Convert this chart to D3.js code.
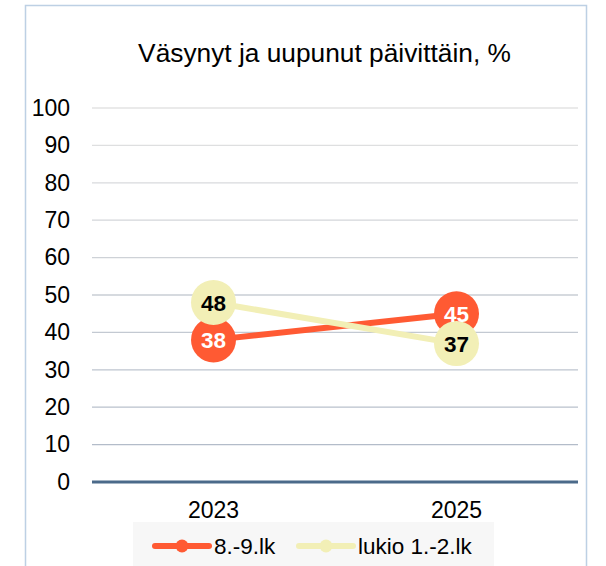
<!DOCTYPE html>
<html><head><meta charset="utf-8">
<script src="https://cdn.jsdelivr.net/npm/d3@7"></script>
<style>body{margin:0;background:#fff;}svg{display:block;font-family:"Liberation Sans",Arial,sans-serif;}</style>
</head><body><svg id="c" width="606" height="566"></svg>
<script>
const categories = ["2023", "2025"];
const seriesNames = ["8.-9.lk", "lukio 1.-2.lk"];
const series1 = [38, 45];
const series2 = [48, 37];
const yTicks = [0, 10, 20, 30, 40, 50, 60, 70, 80, 90, 100];
const title = "Väsynyt ja uupunut päivittäin, %";

const FONT = "'Liberation Sans', Arial, sans-serif";
const colors = ["#FF5A33", "#F2EFB6"];
const labelColors = ["#ffffff", "#000000"];
const svg = d3.select("#c");

// frame
svg.append("path").attr("d","M25.5,570 V5.5 H586.5 V570").attr("fill","none").attr("stroke","#bdd0e4").attr("stroke-width",1.5);

svg.append("text").attr("x",324.5).attr("y",61.5).attr("text-anchor","middle").attr("font-size",26.3).attr("fill","#000").text(title);

const x = d3.scaleBand().domain(categories).range([92,578]);
const y = d3.scaleLinear().domain([0,100]).range([482,108]);

// grid
const gridColor = d3.scaleLinear().domain([0,100]).range(["#aeb8c6","#e3e3e3"]);
svg.append("g").selectAll("line").data(yTicks.filter(d=>d>0)).join("line")
  .attr("x1",92).attr("x2",578).attr("y1",d=>y(d)).attr("y2",d=>y(d))
  .attr("stroke",d=>gridColor(d)).attr("stroke-width",1.3);

// y axis
const ya = svg.append("g").attr("transform","translate(70,0)").call(d3.axisLeft(y).tickValues(yTicks).tickSize(0).tickPadding(0));
ya.select(".domain").remove();
ya.selectAll("text").attr("font-size",23).attr("fill","#000").attr("font-family",FONT);

// baseline
svg.append("line").attr("x1",92).attr("x2",578).attr("y1",y(0)).attr("y2",y(0)).attr("stroke","#4b6a8a").attr("stroke-width",3);

// x axis
const xa = svg.append("g").attr("transform","translate(0,502)").call(d3.axisBottom(x).tickSize(0).tickPadding(0));
xa.select(".domain").remove();
xa.selectAll("text").attr("font-size",23).attr("fill","#000").attr("dy","0.71em").attr("font-family",FONT);

const cx = d => x(d) + x.bandwidth()/2;
const data = [series1, series2];
const line = d3.line().x((d,i)=>cx(categories[i])).y(d=>y(d));

data.forEach((s,k)=>{
  const g = svg.append("g");
  g.append("path").datum(s).attr("d",line).attr("fill","none").attr("stroke",colors[k]).attr("stroke-width",6);
  g.selectAll("circle").data(s).join("circle").attr("cx",(d,i)=>cx(categories[i])).attr("cy",d=>y(d)).attr("r",22.5).attr("fill",colors[k]);
});
data.forEach((s,k)=>{
  svg.append("g").selectAll("text").data(s).join("text")
    .attr("x",(d,i)=>cx(categories[i])).attr("y",d=>y(d)).attr("dy","0.36em")
    .attr("text-anchor","middle").attr("font-size",22.5).attr("font-weight","bold").attr("fill",labelColors[k]).text(d=>d);
});

// legend
const lg = svg.append("g");
lg.append("rect").attr("x",133).attr("y",522).attr("width",361).attr("height",50).attr("fill","#f7f7f7");
const legX = [155, 299];
seriesNames.forEach((n,k)=>{
  const lx = legX[k];
  lg.append("line").attr("x1",lx).attr("x2",lx+54).attr("y1",546).attr("y2",546).attr("stroke",colors[k]).attr("stroke-width",6).attr("stroke-linecap","round");
  lg.append("circle").attr("cx",lx+27).attr("cy",546).attr("r",6.5).attr("fill",colors[k]);
  lg.append("text").attr("x",lx+59).attr("y",546).attr("dy","0.36em").attr("font-size",22.5).attr("fill","#000").text(n);
});
</script></body></html>
